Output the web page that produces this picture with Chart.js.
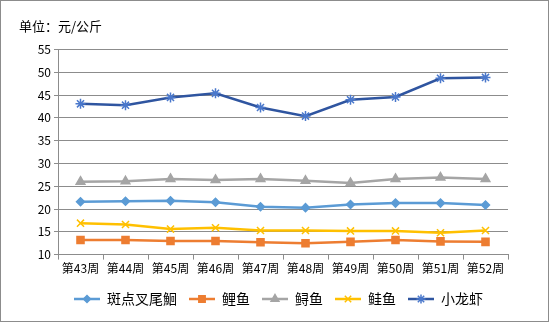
<!DOCTYPE html>
<html>
<head>
<meta charset="utf-8">
<script src="https://cdn.jsdelivr.net/npm/chart.js@4.4.1/dist/chart.umd.min.js"></script>
<style>
  html, body { margin: 0; padding: 0; background: #fff; }
  #wrap {
    width: 549px; height: 322px;
    box-sizing: border-box;
    border: 1px solid #8c8c8c;
    position: relative;
  }
  #priceChart { display: block; }
</style>
</head>
<body>
<div id="wrap"><canvas id="priceChart" width="547" height="320"></canvas></div>
<script>
// weekly prices, 元/公斤
const weeks = ["第43周", "第44周", "第45周", "第46周", "第47周", "第48周", "第49周", "第50周", "第51周", "第52周"];
const catfish  = [21.6, 21.7, 21.8, 21.5, 20.5, 20.3, 21.0, 21.3, 21.3, 20.9];
const carp     = [13.2, 13.2, 13.0, 13.0, 12.7, 12.5, 12.8, 13.2, 12.9, 12.8];
const sturgeon = [26.0, 26.1, 26.6, 26.4, 26.6, 26.2, 25.7, 26.6, 26.9, 26.6];
const salmon   = [16.9, 16.6, 15.6, 15.9, 15.3, 15.3, 15.2, 15.2, 14.8, 15.3];
const crayfish = [43.1, 42.8, 44.5, 45.4, 42.3, 40.4, 44.0, 44.6, 48.7, 48.9];
const yTicks = [10, 15, 20, 25, 30, 35, 40, 45, 50, 55];

const FONT = "'Noto Sans CJK SC', 'Noto Sans', sans-serif";

const series = [
  { label: "斑点叉尾鮰", data: catfish,  line: "#5b9bd5", fill: "#5b9bd5", style: "rectRot", r: 4 },
  { label: "鲤鱼",       data: carp,     line: "#ed7d31", fill: "#ed7d31", style: "rect",    r: 5 },
  { label: "鲟鱼",       data: sturgeon, line: "#a5a5a5", fill: "#a5a5a5", style: "triangle", r: 5 },
  { label: "鲑鱼",       data: salmon,   line: "#ffc000", fill: "#ffc000", style: "crossRot", r: 5 },
  { label: "小龙虾",     data: crayfish, line: "#2f55a0", fill: "#4a78cc", style: "star",    r: 5 }
];

// small line + marker swatch for the legend
function legendSwatch(s) {
  const c = document.createElement("canvas");
  c.width = 26; c.height = 12;
  const g = c.getContext("2d");
  g.strokeStyle = s.line;
  g.lineWidth = 2.5;
  g.beginPath(); g.moveTo(0, 6); g.lineTo(26, 6); g.stroke();
  g.fillStyle = s.fill;
  g.strokeStyle = s.fill;
  g.lineWidth = 1.5;
  Chart.helpers.drawPoint(g, {
    pointStyle: s.style, radius: s.r - 0.5, borderWidth: 1.5, rotation: 0
  }, 13, 6);
  return c;
}

const datasets = series.map(s => ({
  label: s.label,
  data: s.data,
  borderColor: s.line,
  backgroundColor: s.fill,
  borderWidth: 2.5,
  pointStyle: s.style,
  pointRadius: s.r,
  pointBorderColor: s.fill,
  pointBackgroundColor: s.fill,
  pointBorderWidth: 1.5,
  tension: 0
}));

new Chart(document.getElementById("priceChart"), {
  type: "line",
  data: { labels: weeks, datasets: datasets },
  options: {
    responsive: false,
    animation: false,
    layout: { padding: { left: 18, right: 10, top: 0, bottom: 5 } },
    plugins: {
      title: {
        display: true,
        text: "单位：元/公斤",
        align: "start",
        color: "#000",
        font: { family: FONT, size: 13, weight: "normal" },
        padding: { top: 17, bottom: 16 }
      },
      legend: {
        position: "bottom",
        labels: {
          usePointStyle: true,
          pointStyleWidth: 26,
          color: "#000",
          font: { family: FONT, size: 14 },
          padding: 12,
          generateLabels: chart => series.map((s, i) => ({
            text: s.label,
            pointStyle: legendSwatch(s),
            fillStyle: s.fill,
            strokeStyle: s.line,
            lineWidth: 0,
            datasetIndex: i,
            hidden: false
          }))
        }
      },
      tooltip: { enabled: false }
    },
    scales: {
      x: {
        offset: true,
        afterFit: axis => { axis.height += 2; },
        grid: {
          offset: true,
          drawOnChartArea: false,
          drawTicks: true,
          tickLength: 5,
          color: "#8c8c8c"
        },
        border: { color: "#8c8c8c", width: 1 },
        ticks: { color: "#000", font: { family: FONT, size: 12 }, padding: 2, maxRotation: 0 }
      },
      y: {
        min: 10,
        max: 55,
        afterBuildTicks: axis => { axis.ticks = yTicks.map(v => ({ value: v })); },
        afterFit: axis => { axis.width = 39; },
        grid: { color: "#8c8c8c", tickLength: 4, lineWidth: 1 },
        border: { color: "#8c8c8c", width: 1 },
        ticks: { color: "#000", font: { family: FONT, size: 12 }, padding: 3 }
      },
      // empty right-hand axis, only keeps space to the right of the plot
      spacer: {
        position: "right",
        display: true,
        afterFit: axis => { axis.width = 30; },
        grid: { display: false, drawTicks: false },
        border: { display: false },
        ticks: { display: false }
      }
    }
  }
});
</script>
</body>
</html>
